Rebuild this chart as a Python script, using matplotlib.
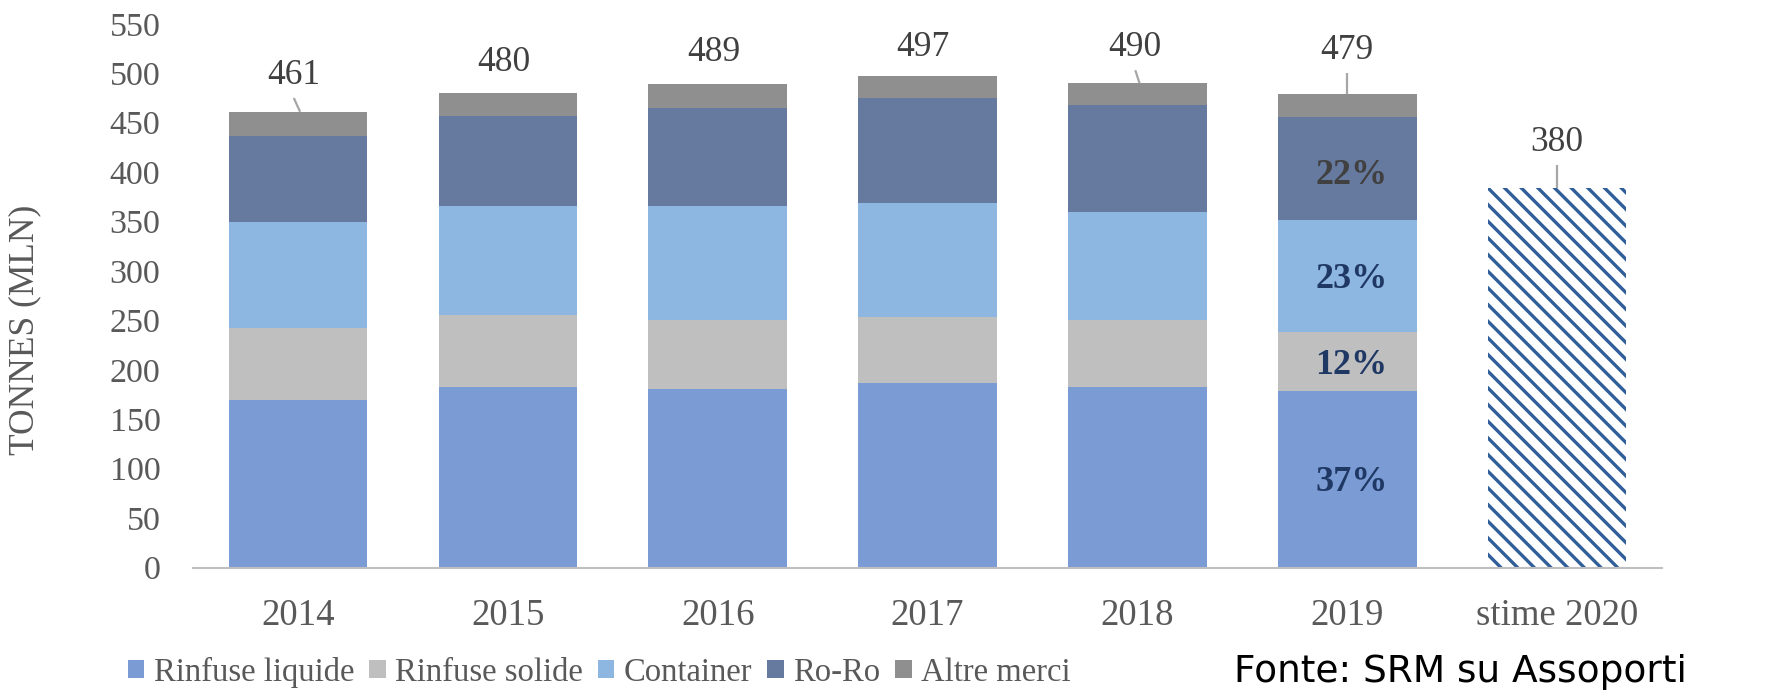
import matplotlib
matplotlib.use("Agg")
import matplotlib.pyplot as plt
from matplotlib.patches import Patch
import numpy as np

# ---------------- data ----------------
years = ["2014", "2015", "2016", "2017", "2018", "2019", "stime 2020"]
series_names = ["Rinfuse liquide", "Rinfuse solide", "Container", "Ro-Ro", "Altre merci"]
rinfuse_liquide = [169, 183, 181, 187, 183, 179]
rinfuse_solide = [73, 72, 69, 66, 67, 59]
container = [108, 111, 116, 116, 110, 114]
ro_ro = [86, 91, 99, 106, 108, 104]
altre_merci = [25, 23, 24, 22, 22, 23]
stima_2020 = 384
total_labels = ["461", "480", "489", "497", "490", "479", "380"]
pct_labels_2019 = ["37%", "12%", "23%", "22%"]

# ---------------- style ----------------
colors = ["#7A9BD4", "#BFBFBF", "#8DB6E1", "#66799F", "#8F8F8F"]
hatch_color = "#2F5E99"
serif = "Liberation Serif"
text_grey = "#595959"
label_grey = "#404040"
navy = "#1F3864"
# label placement (x offset in bar units, y position in data units) and leader flag
label_dx = [-0.02, -0.02, -0.02, -0.02, -0.01, 0.0, 0.0]
label_y = [498, 511, 521, 526, 526, 523, 430]
leader = [True, False, False, False, True, True, True]
pct_dy = [-4, -4, -4, -7]

plt.rcParams["hatch.linewidth"] = 2.4

fig = plt.figure(figsize=(17.81, 6.92), dpi=100)
ax = fig.add_axes([0.1084, 0.1799, 0.8248, 0.7857])

x = np.arange(len(years))
width = 0.66
stacks = [rinfuse_liquide, rinfuse_solide, container, ro_ro, altre_merci]
bottom = np.zeros(len(rinfuse_liquide))
xs = x[:len(rinfuse_liquide)]
for vals, col, name in zip(stacks, colors, series_names):
    ax.bar(xs, vals, width, bottom=bottom, color=col, linewidth=0, label=name)
    bottom = bottom + np.array(vals)
totals = list(bottom) + [stima_2020]

ax.bar(x[-1], stima_2020, width, facecolor="white", edgecolor=hatch_color,
       hatch="\\\\", linewidth=0)

# total labels with leader lines
for i, (t, lab) in enumerate(zip(totals, total_labels)):
    lx = x[i] + label_dx[i]
    ax.text(lx, label_y[i], lab, ha="center", va="center", fontsize=25.5,
            family=serif, color=label_grey)
    if leader[i]:
        ax.plot([lx, x[i] + 0.01 * (label_dx[i] != 0)],
                [label_y[i] - 23, t], color="#A6A6A6", lw=1.6, solid_capstyle="butt")

# percentage labels for 2019
i19 = 5
segs = [rinfuse_liquide[i19], rinfuse_solide[i19], container[i19], ro_ro[i19]]
pct_colors = [navy, navy, navy, label_grey]
base = 0
for v, lab, c, dy in zip(segs, pct_labels_2019, pct_colors, pct_dy):
    ax.text(x[i19] + 0.02, base + v / 2 + dy, lab, ha="center", va="center",
            fontsize=26, fontweight="bold", family=serif, color=c)
    base += v

ax.set_xlim(-0.5, len(years) - 0.5)
ax.set_ylim(0, 550)
ax.set_yticks(np.arange(0, 551, 50))
ax.set_xticks(x)
ax.set_xticklabels(years)
for s in ["top", "right", "left"]:
    ax.spines[s].set_visible(False)
ax.spines["bottom"].set_color("#BFBFBF")
ax.spines["bottom"].set_linewidth(1.5)
ax.tick_params(axis="both", length=0, labelcolor=text_grey)
ax.tick_params(axis="y", pad=23.5, labelsize=24.5)
ax.tick_params(axis="x", pad=22, labelsize=26.5)
for lbl in ax.get_xticklabels() + ax.get_yticklabels():
    lbl.set_family(serif)

ax.set_ylabel("TONNES (MLN)", fontsize=25.5, family=serif, color=text_grey)
ax.yaxis.set_label_coords(-0.1035, 0.437)

handles = [Patch(facecolor=c, edgecolor="none") for c in colors]
leg = fig.legend(handles, series_names, loc="center left",
                 bbox_to_anchor=(128 / 1781, 20 / 692), ncol=5, frameon=False,
                 borderpad=0, borderaxespad=0, handlelength=0.5, handleheight=0.5,
                 handletextpad=0.3, columnspacing=0.45,
                 prop={"family": serif, "size": 23.5})
for t in leg.get_texts():
    t.set_color(text_grey)

fig.text(1234 / 1781, 20 / 692, "Fonte: SRM su Assoporti", ha="left", va="center",
         fontsize=27, family="DejaVu Sans", color="#000000")

fig.savefig("out.png", dpi=100)
